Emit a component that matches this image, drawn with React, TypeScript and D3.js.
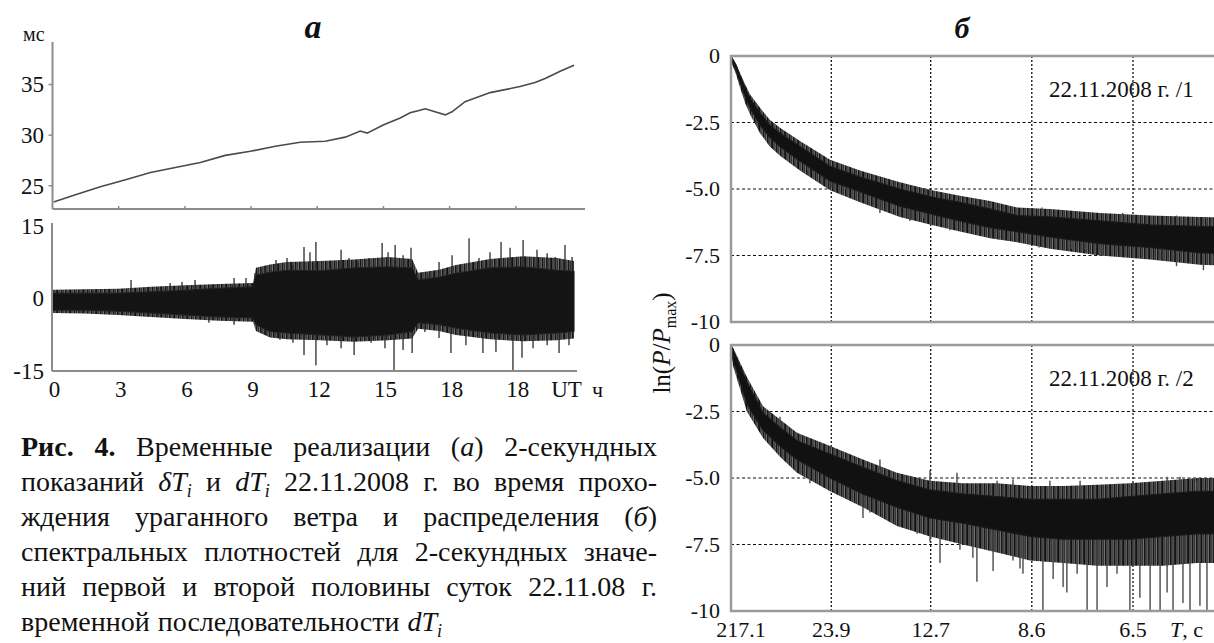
import * as d3 from "d3";
import { useEffect, useRef } from "react";

const W = 1214;
const H = 643;
const FONT = "'Liberation Serif', 'Times New Roman', Times, serif";

// ---- panel а, top: δT_i, мс
const dTHours = [0.05, 1.04, 2.17, 3.31, 4.44, 5.57, 6.7, 7.83, 8.97, 10.1, 11.23, 12.36, 13.27, 13.95, 14.26, 14.99, 15.76, 16.21, 16.57, 16.89, 17.34, 17.8, 18.11, 18.7, 19.84, 21.19, 21.87, 22.33, 23.01, 23.64];
const dTValues = [23.4, 24.1, 24.9, 25.6, 26.3, 26.8, 27.3, 28.0, 28.4, 28.9, 29.3, 29.4, 29.8, 30.4, 30.2, 31.0, 31.7, 32.2, 32.4, 32.6, 32.3, 32.0, 32.3, 33.3, 34.2, 34.8, 35.2, 35.6, 36.3, 36.9];
const dTTicks = [25, 30, 35];

// ---- panel а, bottom: dT_i — dense core, spiky fringe, single spikes
const bandHours = [0, 1.43, 2.97, 4.47, 6.01, 7.55, 9.09, 9.22, 9.86, 10.63, 12.13, 13.67, 15.21, 16.3, 16.57, 17.52, 18.29, 19.83, 21.33, 22.87, 23.64];
const coreUpper = [1.0, 1.0, 1.0, 1.3, 1.6, 2.0, 2.3, 4.7, 5.3, 5.7, 5.6, 6.2, 6.4, 6.2, 3.7, 4.3, 5.1, 6.2, 6.4, 5.7, 5.5];
const coreLower = [-2.5, -2.5, -2.7, -3.1, -3.5, -3.9, -4.1, -5.5, -6.9, -7.2, -7.6, -8.0, -7.6, -6.9, -5.1, -5.5, -6.2, -7.2, -7.6, -7.2, -6.9];
const fringeUpper = [1.7, 1.8, 1.9, 2.3, 2.6, 2.9, 3.1, 6.2, 6.9, 7.4, 7.6, 7.9, 8.4, 8.0, 5.2, 5.8, 6.8, 8.0, 8.6, 8.2, 7.6];
const fringeLower = [-3.1, -3.2, -3.5, -3.9, -4.3, -4.7, -4.9, -6.8, -8.1, -8.5, -8.7, -9.0, -8.7, -8.3, -6.3, -6.8, -7.6, -8.5, -8.9, -8.7, -8.3];
const spikesUp: [number, number][] = [
  [3.56, 3.7], [4.78, 2.1], [5.33, 3.1], [5.87, 3.3], [6.46, 3.7], [7.23, 2.7], [8.23, 4.1], [8.77, 4.1],
  [9.18, 5.1], [9.63, 6.2], [10.13, 7.8], [10.63, 8.2], [10.9, 6.8], [11.4, 10.5], [11.67, 9.4], [11.94, 11.5],
  [12.62, 6.4], [13.08, 9.9], [13.44, 8.2], [13.85, 7.4], [14.35, 8.2], [14.94, 11.3], [15.21, 9.4], [15.53, 10.9],
  [15.89, 8.8], [16.25, 10.3], [16.57, 4.1], [17.07, 5.1], [17.52, 7.4], [18.11, 8.8], [18.88, 12.3], [19.33, 8.2],
  [19.83, 9.4], [20.33, 11.5], [20.74, 10.3], [21.33, 11.9], [21.96, 9.9], [22.42, 9.2], [22.78, 8.4], [23.23, 10.9],
  [23.55, 8.4],
];
const spikesDown: [number, number][] = [
  [4.78, -3.9], [7.09, -5.1], [8.23, -5.5], [9.68, -7.6], [10.31, -8.6], [10.9, -9.2], [11.4, -11.7], [11.94, -13.8],
  [12.44, -9.7], [13.08, -10.3], [13.67, -11.7], [14.44, -9.2], [15.07, -10.3], [15.48, -15], [15.89, -10.7],
  [16.3, -11.3], [16.88, -7.0], [17.52, -8.2], [18.06, -11.3], [18.74, -9.7], [19.51, -11.3], [20.1, -11.1],
  [20.87, -15], [21.28, -12.3], [21.78, -10.3], [22.42, -9.7], [22.96, -11.3], [23.41, -9.7],
];
const hourLabels = ["0", "3", "6", "9", "12", "15", "18", "18"];

// ---- panel б: spectra, ln(P/Pmax) vs frequency (labelled by period T, s)
const periodTicks = [217.1, 23.9, 12.7, 8.6, 6.5];
const lnTicks = [0, -2.5, -5, -7.5, -10];
const lnTickLabels = ["0", "-2.5", "-5.0", "-7.5", "-10"];

const spec1Freq = [0.0046, 0.0065, 0.008, 0.01, 0.0117, 0.0154, 0.019, 0.0228, 0.0302, 0.0414, 0.0525, 0.0673, 0.0792, 0.0896, 0.1008, 0.1108, 0.123, 0.1416, 0.1602, 0.1787, 0.1955];
const spec1Upper = [0, -0.35, -0.75, -1.25, -1.6, -2.15, -2.6, -2.9, -3.4, -4.15, -4.55, -5.0, -5.3, -5.5, -5.75, -6.0, -6.05, -6.2, -6.35, -6.4, -6.45];
const spec1Lower = [-0.1, -0.55, -1.0, -1.55, -1.95, -2.6, -3.05, -3.4, -3.95, -4.7, -5.1, -5.65, -5.95, -6.2, -6.45, -6.6, -6.8, -7.05, -7.2, -7.4, -7.45];
const spec1FringeUpper = [0, -0.3, -0.65, -1.1, -1.45, -1.95, -2.4, -2.7, -3.2, -3.9, -4.3, -4.75, -5.05, -5.25, -5.45, -5.7, -5.75, -5.9, -6.0, -6.05, -6.1];
const spec1FringeLower = [-0.2, -0.7, -1.2, -1.8, -2.2, -2.9, -3.4, -3.75, -4.3, -5.05, -5.5, -6.05, -6.35, -6.6, -6.85, -7.0, -7.25, -7.5, -7.65, -7.85, -7.9];
const spec1Spikes: [number, number][] = [
  [0.033, -4.3], [0.042, -4.95], [0.047, -5.0], [0.056, -5.5], [0.0599, -5.9], [0.065, -5.75], [0.071, -6.2],
  [0.076, -6.1], [0.082, -6.35], [0.0859, -6.55], [0.093, -6.5], [0.098, -6.7], [0.104, -6.9], [0.109, -6.85],
  [0.115, -7.05], [0.119, -7.2], [0.125, -7.0], [0.131, -7.25], [0.136, -7.3], [0.142, -7.5], [0.148, -7.35],
  [0.154, -7.6], [0.159, -7.4], [0.165, -7.7], [0.17, -7.9], [0.175, -7.6], [0.18, -8.05], [0.184, -7.8], [0.188, -8.2],
  [0.04, -3.9], [0.07, -4.9], [0.1, -5.5], [0.12, -5.7], [0.15, -5.9], [0.17, -6.0], [0.185, -6.1],
];

const spec2Freq = [0.0046, 0.0054, 0.0105, 0.0165, 0.0228, 0.0291, 0.0414, 0.0536, 0.0662, 0.0785, 0.0907, 0.1034, 0.1156, 0.1279, 0.1405, 0.1527, 0.165, 0.1776, 0.1955];
const spec2Upper = [0, -0.2, -1.4, -2.55, -3.1, -3.6, -4.1, -4.6, -5.1, -5.45, -5.6, -5.7, -5.8, -5.8, -5.8, -5.7, -5.6, -5.5, -5.5];
const spec2Lower = [-0.1, -0.56, -2.2, -3.2, -3.8, -4.3, -5.0, -5.6, -6.1, -6.5, -6.7, -6.95, -7.2, -7.3, -7.3, -7.3, -7.2, -7.1, -7.1];
const spec2FringeUpper = [0, -0.1, -1.2, -2.3, -2.8, -3.3, -3.8, -4.3, -4.8, -5.1, -5.2, -5.2, -5.3, -5.3, -5.25, -5.2, -5.1, -5.0, -5.0];
const spec2FringeLower = [-0.2, -0.8, -2.5, -3.5, -4.2, -4.8, -5.5, -6.1, -6.8, -7.2, -7.5, -7.8, -8.1, -8.2, -8.3, -8.3, -8.3, -8.2, -8.2];
const spec2Spikes: [number, number][] = [
  [0.0339, -5.2], [0.0414, -5.2], [0.0536, -6.5], [0.0562, -6.3], [0.0737, -7.1], [0.0785, -7.4], [0.0822, -8.2],
  [0.0896, -7.7], [0.0944, -8.0], [0.0959, -8.9], [0.1019, -8.5], [0.1093, -8.1], [0.113, -8.6], [0.1119, -8.4],
  [0.1204, -10], [0.1242, -8.8], [0.1279, -9.1], [0.1293, -9.3], [0.1331, -8.6], [0.1368, -10], [0.1405, -10],
  [0.1442, -9.1], [0.1479, -8.6], [0.1527, -10], [0.1564, -9.5], [0.1602, -10], [0.1639, -10], [0.1665, -9.3],
  [0.1687, -10], [0.1724, -9.7], [0.175, -10], [0.1787, -9.8], [0.1813, -10],
  [0.0228, -2.7], [0.0291, -3.3], [0.0599, -4.3], [0.0785, -4.7], [0.0885, -4.8], [0.1034, -5.1], [0.1093, -5.05],
  [0.123, -5.1], [0.1342, -5.1], [0.1527, -5.3], [0.1665, -4.95], [0.1713, -4.95], [0.1776, -5.1],
];

// ---- caption (*bold*, _italic_, ~italic subscript~)
const captionLines = [
  "*Рис.* *4.* Временные реализации (_а_) 2-секундных",
  "показаний _δT_~i~ и _dT_~i~ 22.11.2008 г. во время прохо-",
  "ждения ураганного ветра и распределения (_б_)",
  "спектральных плотностей для 2-секундных значе-",
  "ний первой и второй половины суток 22.11.08 г.",
  "временной последовательности _dT_~i~",
];

const interp = (xs: number[], ys: number[], x: number) => {
  const i = Math.min(Math.max(d3.bisectRight(xs, x), 1), xs.length - 1);
  const t = (x - xs[i - 1]) / (xs[i] - xs[i - 1]);
  return ys[i - 1] + t * (ys[i] - ys[i - 1]);
};

type Band = { x: number; hi: number; lo: number };

export default function App() {
  const svgRef = useRef<SVGSVGElement>(null);

  useEffect(() => {
    const svg = d3.select(svgRef.current);
    svg.selectAll("*").remove();
    svg.append("rect").attr("width", W).attr("height", H).attr("fill", "#fff");

    // irregular streaky fill for the noisy fringe of the signals
    const defs = svg.append("defs");
    const pat = defs.append("pattern").attr("id", "streaks").attr("patternUnits", "userSpaceOnUse")
      .attr("width", 13).attr("height", 8);
    pat.append("rect").attr("width", 13).attr("height", 8).attr("fill", "#6e6e6e");
    [[0, 1.6, "#151515"], [2.4, 1.0, "#2a2a2a"], [4.2, 2.2, "#111"], [7.3, 0.9, "#333"], [8.9, 1.5, "#181818"], [11.2, 0.8, "#262626"]]
      .forEach(([x, w, c]) => {
        pat.append("rect").attr("x", x as number).attr("width", w as number).attr("height", 8).attr("fill", c as string);
      });

    const g = svg.append("g").attr("font-family", FONT).attr("fill", "#111");
    const axisColor = "#8c8c8c";
    const xH = d3.scaleLinear().domain([0, 24]).range([52.5, 582]);

    // ===== panel а, top
    const yDT = d3.scaleLinear().domain([22.7, 39.2]).range([209, 42]);
    g.append("path")
      .datum(dTHours.map((h, i) => [h, dTValues[i]] as [number, number]))
      .attr("d", d3.line<[number, number]>().x((d) => xH(d[0])).y((d) => yDT(d[1])))
      .attr("fill", "none")
      .attr("stroke", "#4a4a4a")
      .attr("stroke-width", 1.6);
    g.append("line").attr("x1", xH(0)).attr("x2", xH(0)).attr("y1", 42).attr("y2", 209)
      .attr("stroke", axisColor).attr("stroke-width", 2);
    g.append("line").attr("x1", xH(0)).attr("x2", 585).attr("y1", 209).attr("y2", 209)
      .attr("stroke", axisColor).attr("stroke-width", 2);
    d3.range(3, 22, 3).forEach((h) => {
      g.append("line").attr("x1", xH(h)).attr("x2", xH(h)).attr("y1", 209).attr("y2", 206)
        .attr("stroke", axisColor).attr("stroke-width", 1.5);
    });
    dTTicks.forEach((v) => {
      g.append("line").attr("x1", xH(0) - 4).attr("x2", xH(0)).attr("y1", yDT(v)).attr("y2", yDT(v))
        .attr("stroke", axisColor).attr("stroke-width", 1.5);
      g.append("text").attr("x", 44).attr("y", yDT(v)).attr("dy", "0.34em")
        .attr("text-anchor", "end").attr("font-size", 23).text(String(v));
    });
    g.append("text").attr("x", 23).attr("y", 41).attr("font-size", 20).text("мс");
    g.append("text").attr("x", 313).attr("y", 38).attr("text-anchor", "middle")
      .attr("font-size", 34).attr("font-weight", "bold").attr("font-style", "italic").text("а");

    // ===== panel а, bottom
    const yB = d3.scaleLinear().domain([-15, 15]).range([371, 225]);
    const bandArea = d3.area<Band>().x((d) => xH(d.x)).y0((d) => yB(d.lo)).y1((d) => yB(d.hi));
    g.append("path")
      .datum(bandHours.map((x, i) => ({ x, hi: fringeUpper[i], lo: fringeLower[i] })))
      .attr("d", bandArea).attr("fill", "url(#streaks)");
    [...spikesUp, ...spikesDown].forEach(([h, v]) => {
      g.append("line").attr("x1", xH(h)).attr("x2", xH(h)).attr("y1", yB(0)).attr("y2", yB(v))
        .attr("stroke", "#2b2b2b").attr("stroke-width", 1.3);
    });
    g.append("path")
      .datum(bandHours.map((x, i) => ({ x, hi: coreUpper[i], lo: coreLower[i] })))
      .attr("d", bandArea).attr("fill", "#141414").attr("stroke", "#222").attr("stroke-width", 1);
    g.append("line").attr("x1", xH(0) - 0.5).attr("x2", xH(0) - 0.5).attr("y1", 223).attr("y2", 371)
      .attr("stroke", axisColor).attr("stroke-width", 2);
    g.append("line").attr("x1", xH(0) - 0.5).attr("x2", 577).attr("y1", 371).attr("y2", 371)
      .attr("stroke", axisColor).attr("stroke-width", 2);
    [15, 0, -15].forEach((v) => {
      g.append("text").attr("x", 44).attr("y", yB(v) + (v === 15 ? 1 : 0)).attr("dy", "0.34em")
        .attr("text-anchor", "end").attr("font-size", 23).text(String(v));
    });
    hourLabels.forEach((lab, i) => {
      g.append("text").attr("x", xH(i * 3) + 2).attr("y", 397).attr("text-anchor", "middle")
        .attr("font-size", 23).text(lab);
    });
    g.append("text").attr("x", xH(23.3)).attr("y", 397).attr("text-anchor", "middle").attr("font-size", 23).text("UT");
    g.append("text").attr("x", xH(24.7)).attr("y", 397).attr("text-anchor", "middle").attr("font-size", 22).text("ч");

    // ===== panel б
    const xF = d3.scaleLinear().domain([1 / 217.1, 1 / 6.5]).range([731, 1133]);
    const xRight = xF(0.1955);
    const drawSpectrum = (
      top: number,
      bottom: number,
      freq: number[],
      upper: number[],
      lower: number[],
      fUpper: number[],
      fLower: number[],
      spikes: [number, number][],
      label: string,
    ) => {
      const y = d3.scaleLinear().domain([-10, 0]).range([bottom, top]);
      const area = d3.area<Band>().x((d) => xF(d.x)).y0((d) => y(d.lo)).y1((d) => y(d.hi));
      const mid = upper.map((u, i) => (u + lower[i]) / 2);
      [-2.5, -5, -7.5].forEach((v) => {
        g.append("line").attr("x1", xF(1 / 217.1)).attr("x2", xRight).attr("y1", y(v)).attr("y2", y(v))
          .attr("stroke", "#111").attr("stroke-width", 1.2).attr("stroke-dasharray", "3,2.5");
      });
      periodTicks.slice(1).forEach((T) => {
        g.append("line").attr("x1", xF(1 / T)).attr("x2", xF(1 / T)).attr("y1", top).attr("y2", bottom)
          .attr("stroke", "#111").attr("stroke-width", 1.3).attr("stroke-dasharray", "2,2");
      });
      g.append("path")
        .datum(freq.map((x, i) => ({ x, hi: fUpper[i], lo: fLower[i] })))
        .attr("d", area).attr("fill", "url(#streaks)");
      spikes.forEach(([f, v]) => {
        g.append("line").attr("x1", xF(f)).attr("x2", xF(f))
          .attr("y1", y(interp(freq, mid, f))).attr("y2", y(v))
          .attr("stroke", "#4a4a4a").attr("stroke-width", 1.4);
      });
      g.append("path")
        .datum(freq.map((x, i) => ({ x, hi: upper[i], lo: lower[i] })))
        .attr("d", area).attr("fill", "#111").attr("stroke", "#1a1a1a").attr("stroke-width", 1.2);
      const frame = "#9a9a9a";
      g.append("path")
        .attr("d", `M${xRight + 20},${top}H${xF(1 / 217.1)}V${bottom}H${xRight + 20}`)
        .attr("fill", "none").attr("stroke", frame).attr("stroke-width", 2.5);
      lnTicks.forEach((v, i) => {
        g.append("text").attr("x", 720).attr("y", y(v)).attr("dy", "0.34em").attr("text-anchor", "end")
          .attr("font-size", 22).text(lnTickLabels[i]);
      });
      g.append("text").attr("x", 1049).attr("y", top + 41).attr("font-size", 23).text(label);
    };
    drawSpectrum(56, 322, spec1Freq, spec1Upper, spec1Lower, spec1FringeUpper, spec1FringeLower, spec1Spikes, "22.11.2008 г. /1");
    drawSpectrum(345, 611, spec2Freq, spec2Upper, spec2Lower, spec2FringeUpper, spec2FringeLower, spec2Spikes, "22.11.2008 г. /2");

    periodTicks.forEach((T) => {
      g.append("text").attr("x", xF(1 / T) + (T > 100 ? 10 : 0)).attr("y", 637).attr("text-anchor", "middle")
        .attr("font-size", 22).text(String(T));
    });
    const tl = g.append("text").attr("x", 1170).attr("y", 637).attr("font-size", 22);
    tl.append("tspan").attr("font-style", "italic").text("T");
    tl.append("tspan").text(", с");

    g.append("text").attr("x", 962).attr("y", 38).attr("text-anchor", "middle")
      .attr("font-size", 30).attr("font-weight", "bold").attr("font-style", "italic").text("б");

    const yl = g.append("text").attr("transform", "translate(670,343) rotate(-90)")
      .attr("text-anchor", "middle").attr("font-size", 25);
    yl.append("tspan").text("ln(");
    yl.append("tspan").attr("font-style", "italic").text("P");
    yl.append("tspan").text("/");
    yl.append("tspan").attr("font-style", "italic").text("P");
    yl.append("tspan").attr("font-size", 16).attr("dy", 6).text("max");
    yl.append("tspan").attr("dy", -6).text(")");

    // ===== caption, justified by words
    const capLeft = 21;
    const capRight = 657;
    const cap = g.append("g").attr("font-size", 28);
    captionLines.forEach((line, li) => {
      const words = line.split(" ");
      const y = 456 + li * 35;
      const nodes = words.map((w) => {
        const t = cap.append("text").attr("y", y);
        (w.match(/\*[^*]+\*|_[^_]+_|~[^~]+~|[^*_~]+/g) || []).forEach((seg) => {
          const ts = t.append("tspan");
          if (seg[0] === "*") ts.attr("font-weight", "bold").text(seg.slice(1, -1));
          else if (seg[0] === "_") ts.attr("font-style", "italic").text(seg.slice(1, -1));
          else if (seg[0] === "~") ts.attr("font-style", "italic").attr("font-size", 18).attr("dy", 6).text(seg.slice(1, -1));
          else ts.text(seg);
        });
        return t;
      });
      const widths = nodes.map((n) => (n.node() as SVGTextElement).getComputedTextLength());
      const total = d3.sum(widths);
      const last = li === captionLines.length - 1;
      const gap = last ? 8 : (capRight - capLeft - total) / (words.length - 1);
      let x = capLeft;
      nodes.forEach((n, i) => {
        n.attr("x", x);
        x += widths[i] + gap;
      });
    });
  }, []);

  return (
    <svg
      ref={svgRef}
      width={W}
      height={H}
      style={{ position: "absolute", left: 0, top: 0, display: "block" }}
    />
  );
}
